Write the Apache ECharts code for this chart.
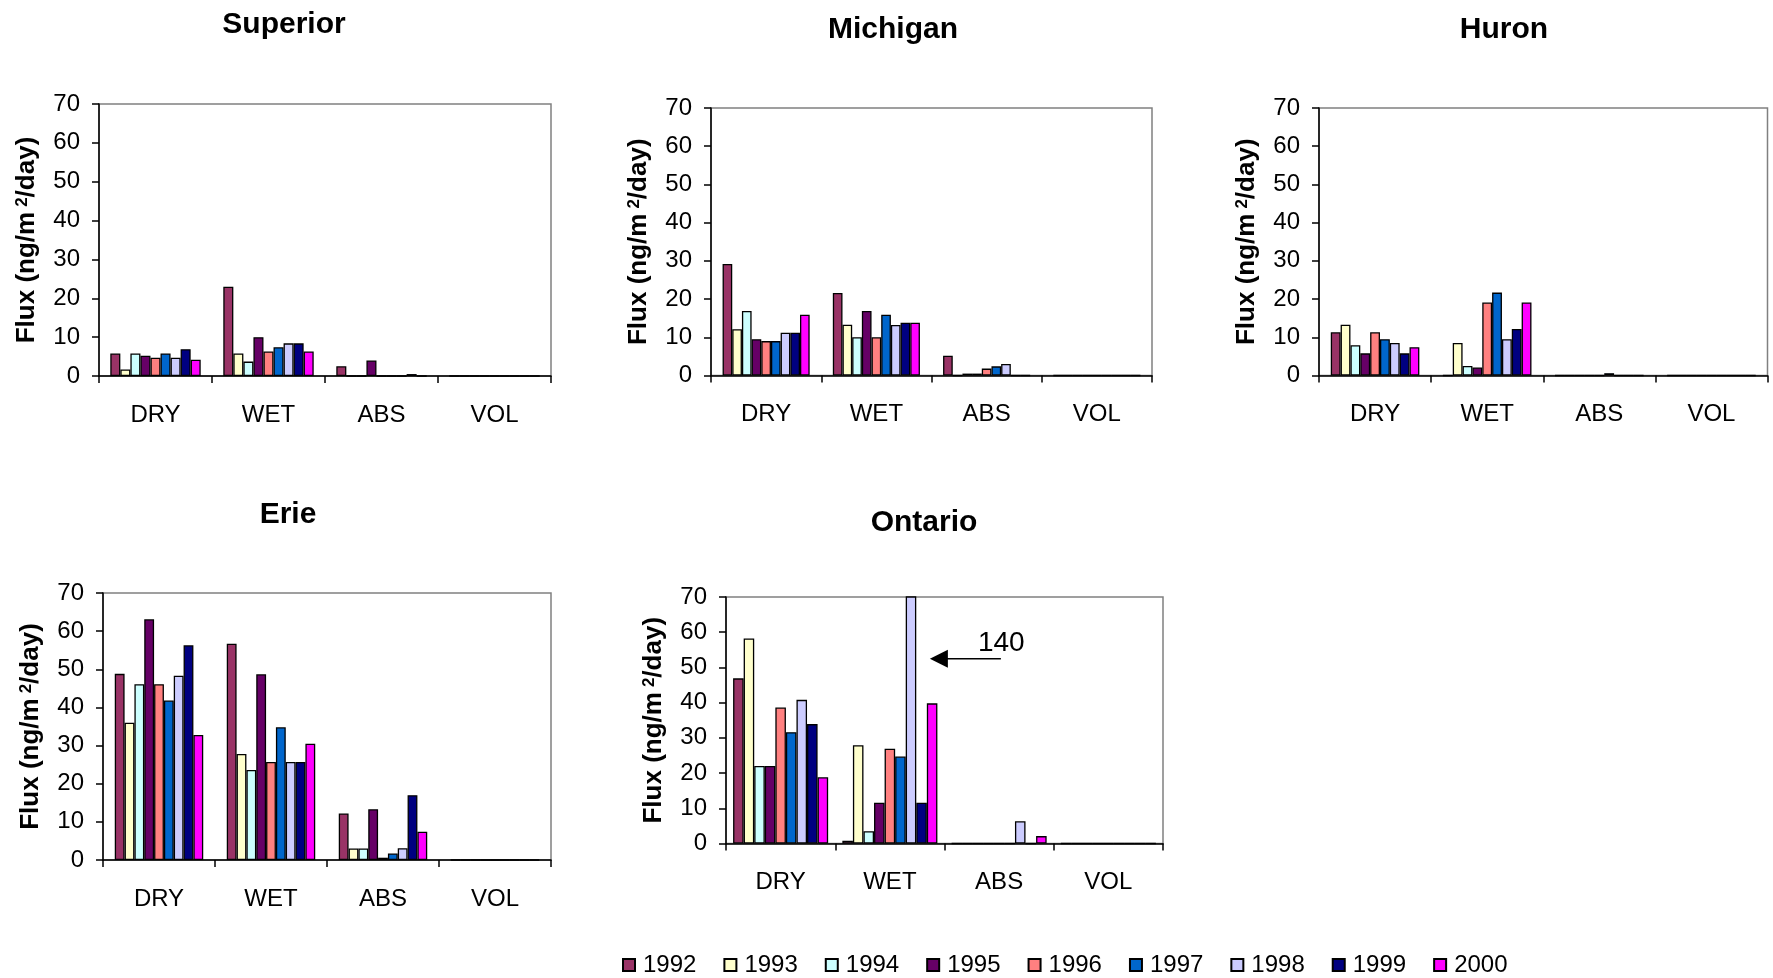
<!DOCTYPE html>
<html>
<head>
<meta charset="utf-8">
<title>Flux by deposition type, Great Lakes</title>
<script src="https://cdn.jsdelivr.net/npm/echarts@6/dist/echarts.min.js"></script>
<style>
  html, body { margin: 0; padding: 0; background: #ffffff; }
  #chart { width: 1773px; height: 978px; }
</style>
</head>
<body>
<div id="chart"></div>
<script>
// Flux (ng/m2/day) by process, one row per year: [DRY, WET, ABS, VOL]
const categories = ['DRY', 'WET', 'ABS', 'VOL'];
const years = ['1992', '1993', '1994', '1995', '1996', '1997', '1998', '1999', '2000'];
const yearColors = ['#993366', '#FFFFCC', '#CCFFFF', '#660066', '#FF8080', '#0066CC', '#CCCCFF', '#000080', '#FF00FF'];
const yTicks = { min: 0, max: 70, interval: 10 };

const superior = [
  [5.8, 23.0, 2.5, 0],
  [1.7, 5.8, 0, 0],
  [5.8, 3.7, 0, 0],
  [5.2, 10.0, 4.0, 0],
  [4.7, 6.3, 0, 0],
  [5.8, 7.4, 0, 0],
  [4.7, 8.4, 0, 0],
  [6.9, 8.4, 0.5, 0],
  [4.2, 6.3, 0, 0]
];
const michigan = [
  [29.2, 21.6, 5.2, 0],
  [12.1, 13.3, 0, 0],
  [16.9, 10.0, 0.5, 0],
  [9.5, 16.9, 0.5, 0],
  [9.0, 10.0, 1.8, 0],
  [9.0, 15.9, 2.4, 0],
  [11.2, 13.2, 3.0, 0],
  [11.2, 13.8, 0, 0],
  [15.9, 13.8, 0, 0]
];
const huron = [
  [11.3, 0, 0, 0],
  [13.3, 8.5, 0, 0],
  [7.9, 2.5, 0, 0],
  [5.8, 2.1, 0, 0],
  [11.3, 19.1, 0, 0],
  [9.5, 21.7, 0.6, 0],
  [8.5, 9.5, 0, 0],
  [5.8, 12.2, 0, 0],
  [7.4, 19.1, 0, 0]
];
const erie = [
  [48.8, 56.7, 12.2, 0],
  [36.0, 27.8, 3.0, 0],
  [46.1, 23.6, 3.0, 0],
  [63.1, 48.7, 13.3, 0],
  [46.1, 25.7, 0.6, 0],
  [41.8, 34.8, 1.7, 0],
  [48.3, 25.7, 3.1, 0],
  [56.3, 25.7, 17.0, 0],
  [32.8, 30.5, 7.4, 0]
];
const ontario = [
  [46.9, 0.8, 0, 0],
  [58.2, 27.9, 0, 0],
  [22.0, 3.5, 0, 0],
  [22.0, 11.6, 0, 0],
  [38.6, 26.9, 0, 0],
  [31.6, 24.7, 0, 0],
  [40.8, 140, 6.3, 0],
  [33.9, 11.6, 0, 0],
  [18.8, 39.8, 2.1, 0]
];

const FONT = '"Liberation Sans", Arial, sans-serif';

// panel layout: title centre and plot rectangle
const panels = [
  { name: 'Superior', data: superior, titleX: 279, titleY: 5,   grid: { left: 99,  top: 104, width: 452, height: 272 }, gap: '20%' },
  { name: 'Michigan', data: michigan, titleX: 888, titleY: 10,  grid: { left: 711, top: 108, width: 441, height: 267.5 }, gap: '21%' },
  { name: 'Huron',    data: huron,    titleX: 1499, titleY: 10, grid: { left: 1319, top: 108, width: 448.5, height: 267.5 }, gap: '21%' },
  { name: 'Erie',     data: erie,     titleX: 283, titleY: 495, grid: { left: 103, top: 593, width: 448, height: 267 }, gap: '21%' },
  { name: 'Ontario',  data: ontario,  titleX: 919, titleY: 503, grid: { left: 726, top: 597, width: 437, height: 246.5 }, gap: '13%' }
];

const titles = [], grids = [], xAxes = [], yAxes = [], series = [];

panels.forEach((p, i) => {
  titles.push({
    text: p.name, left: p.titleX, top: p.titleY, textAlign: 'center',
    textStyle: { fontFamily: FONT, fontWeight: 'bold', fontSize: 30, color: '#000' }
  });
  grids.push(Object.assign({ show: true, borderColor: '#808080', borderWidth: 1.5, backgroundColor: 'transparent' }, p.grid));
  xAxes.push({
    type: 'category', gridIndex: i, data: categories,
    axisLine: { lineStyle: { color: '#000', width: 1.5 } },
    axisTick: { show: true, alignWithLabel: false, length: 7, lineStyle: { color: '#000', width: 1.5 } },
    axisLabel: { fontFamily: FONT, fontSize: 24, color: '#000', margin: 27 },
    splitLine: { show: false }
  });
  yAxes.push({
    type: 'value', gridIndex: i, min: yTicks.min, max: yTicks.max, interval: yTicks.interval,
    name: '{a|Flux (ng/m}{s|2}{a|/day)}', nameLocation: 'middle', nameGap: 59, nameRotate: 90,
    nameTextStyle: {
      fontFamily: FONT, fontWeight: 'bold', fontSize: 26, color: '#000',
      rich: {
        a: { fontFamily: FONT, fontWeight: 'bold', fontSize: 26, color: '#000' },
        s: { fontFamily: FONT, fontWeight: 'bold', fontSize: 17, color: '#000', verticalAlign: 'top', padding: [0, 0, 0, 5] }
      }
    },
    axisLine: { show: true, lineStyle: { color: '#000', width: 1.5 } },
    axisTick: { show: true, length: 7, lineStyle: { color: '#000', width: 1.5 } },
    axisLabel: { fontFamily: FONT, fontSize: 24, color: '#000', margin: 19 },
    splitLine: { show: false }
  });
  years.forEach((yr, k) => {
    series.push({
      name: yr, type: 'bar', xAxisIndex: i, yAxisIndex: i,
      data: p.data[k], barGap: '0%', barCategoryGap: p.gap, clip: true,
      itemStyle: { color: yearColors[k], borderColor: '#000', borderWidth: 1.3 },
      emphasis: { disabled: true }, animation: false
    });
  });
});

const chart = echarts.init(document.getElementById('chart'), null, { renderer: 'canvas' });
chart.setOption({
  backgroundColor: '#ffffff',
  animation: false,
  title: titles,
  grid: grids,
  xAxis: xAxes,
  yAxis: yAxes,
  legend: {
    data: years, left: 617, top: 948, itemWidth: 12, itemHeight: 12, itemGap: 27,
    icon: 'rect',
    textStyle: { fontFamily: FONT, fontSize: 24, color: '#000', padding: [0, 0, 0, 3] }
  },
  series: series
});

// off-scale note for the 1998 wet flux at Ontario
const offScale = ontario[6][1];
const anchor = chart.convertToPixel({ gridIndex: 4 }, ['WET', 52.5]);
const tipX = anchor[0] + 40, arrowY = anchor[1];
chart.setOption({
  graphic: [
    { type: 'polygon', shape: { points: [[tipX, arrowY], [tipX + 18, arrowY - 9], [tipX + 18, arrowY + 9]] }, style: { fill: '#000' } },
    { type: 'line', shape: { x1: tipX + 16, y1: arrowY, x2: tipX + 71, y2: arrowY }, style: { stroke: '#000', lineWidth: 1.5 } },
    { type: 'text', x: tipX + 48, y: arrowY - 15, style: { text: String(offScale), font: '28px ' + FONT, fill: '#000', verticalAlign: 'middle', align: 'left' } }
  ]
});
</script>
</body>
</html>
